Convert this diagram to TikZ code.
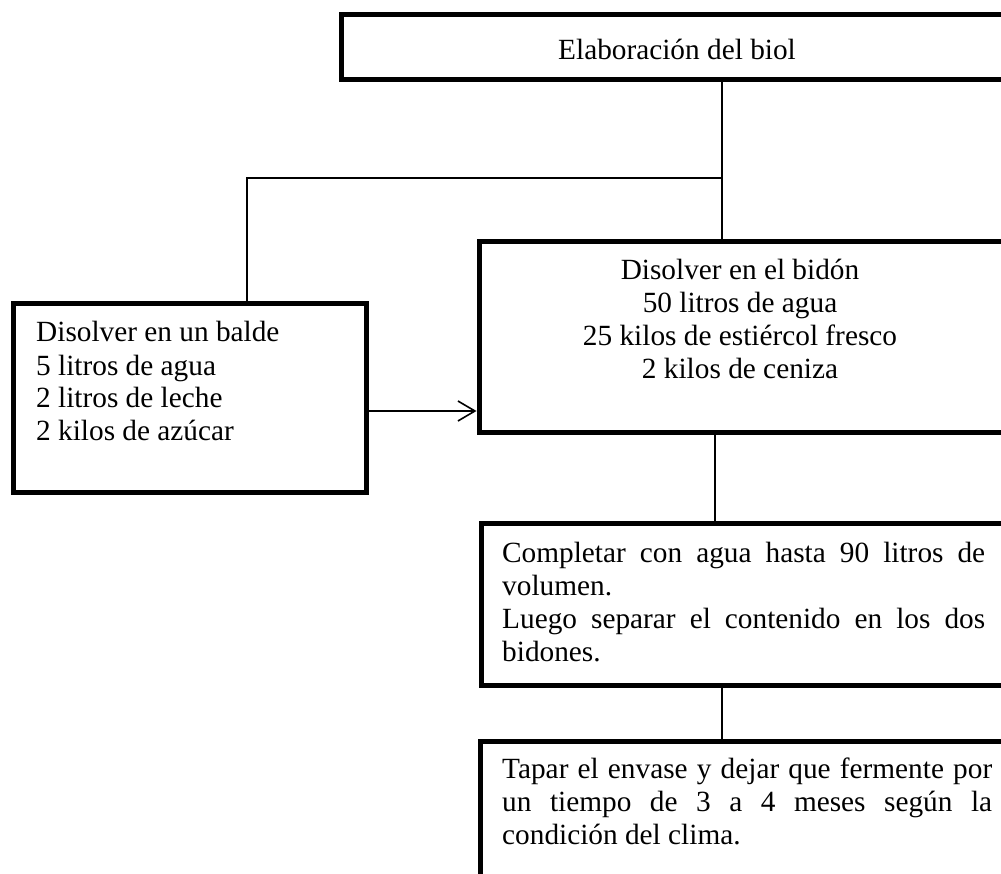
\documentclass[tikz,border=0pt]{standalone}
\usepackage{fontspec}
\setmainfont{Liberation Serif}
\usetikzlibrary{arrows.meta}
\begin{document}
\begin{tikzpicture}[x=1pt,y=-1pt,
  box/.style={draw, line width=5pt, rectangle, inner sep=0pt, outer sep=0pt, anchor=north west, fill=white},
  conn/.style={line width=1.6pt},
  txt/.style={inner sep=0pt, font=\fontsize{29.3}{33}\selectfont},
]
\useasboundingbox (0,0) rectangle (1001,874);
\clip (0,0) rectangle (1001,874);
% boxes
\node[box, minimum width=672pt, minimum height=65pt] (top) at (341,14.5) {};
\node[box, minimum width=353pt, minimum height=188pt] (left) at (13,304) {};
\node[box, minimum width=540pt, minimum height=190pt] (bidon) at (479,242) {};
\node[box, minimum width=540pt, minimum height=162pt] (comp) at (481,523) {};
\node[box, minimum width=540pt, minimum height=200pt] (tapar) at (480,741) {};
% helper coordinates
\coordinate (j) at (722,178);
\coordinate (k) at (247,178);
\coordinate (ay) at (0,411);
\coordinate (m) at (715,0);
% connectors
\draw[conn] (top.south -| j) -- (bidon.north -| j);
\draw[conn] (j) -- (k) -- (k |- left.north);
\draw[conn, shorten >=2.5pt, -{Straight Barb[length=17pt,width=20pt,line width=1.6pt]}] (left.east |- ay) -- (bidon.west |- ay);
\draw[conn] (bidon.south -| m) -- (comp.north -| m);
\draw[conn] (comp.south -| j) -- (tapar.north -| j);
% texts
\node[txt, anchor=base] (ttop) at (677,60) {Elaboración del biol};
\node[txt, anchor=base west] (tleft) at (36,342) {\parbox[t]{330pt}{Disolver en un balde\\5 litros de agua\\2 litros de leche\\2 kilos de azúcar}};
\node[txt, anchor=base] (tbidon) at (740,280) {\parbox[t]{500pt}{\centering Disolver en el bidón\\50 litros de agua\\25 kilos de estiércol fresco\\2 kilos de ceniza}};
\node[txt, anchor=base west] (tcomp) at (502,562) {\parbox[t]{483pt}{\makebox[483pt][s]{Completar con agua hasta 90 litros de}\\volumen.\\\makebox[483pt][s]{Luego separar el contenido en los dos}\\bidones.}};
\node[txt, anchor=base west] (ttapar) at (502,778) {\parbox[t]{490pt}{\makebox[490pt][s]{Tapar el envase y dejar que fermente por}\\\makebox[490pt][s]{un tiempo de 3 a 4 meses según la}\\condición del clima.}};
\end{tikzpicture}
\end{document}
